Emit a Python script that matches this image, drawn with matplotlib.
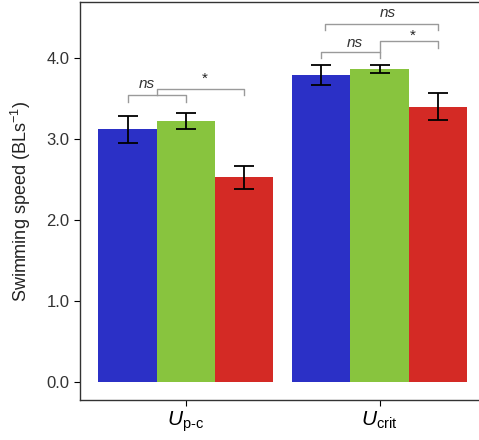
import numpy as np
import matplotlib.pyplot as plt

plt.rcParams['font.family'] = ['Liberation Sans', 'DejaVu Sans']
plt.rcParams['mathtext.fontset'] = 'custom'
plt.rcParams['mathtext.rm'] = 'Liberation Sans'
plt.rcParams['mathtext.it'] = 'Liberation Sans:italic'

groups = ['$\\mathit{U}_{\\mathrm{p\\text{-}c}}$', '$\\mathit{U}_{\\mathrm{crit}}$']
means_blue = [3.12, 3.79]
means_green = [3.22, 3.86]
means_red = [2.53, 3.40]
err_blue = [0.17, 0.12]
err_green = [0.10, 0.05]
err_red = [0.14, 0.17]

colors = ['#2b30c6', '#88c43e', '#d42a25']
width = 0.3
x = np.arange(len(groups))

fig = plt.figure(figsize=(4.79, 4.40), dpi=100)
ax = fig.add_axes([0.167, 0.091, 0.84, 0.904])

series = [(means_blue, err_blue), (means_green, err_green), (means_red, err_red)]
for i, (m, e) in enumerate(series):
    ax.bar(x + (i - 1) * width, m, width, color=colors[i], edgecolor='none')
    ax.errorbar(x + (i - 1) * width, m, yerr=e, fmt='none', ecolor='black',
                elinewidth=1.3, capsize=7, capthick=1.3)

gc = '#9a9a9a'
lw = 1.0
# group 1 brackets
ax.plot([-0.3, -0.3, 0.0, 0.0], [3.46, 3.54, 3.54, 3.46], color=gc, lw=lw)
ax.plot([-0.15, -0.15, 0.3, 0.3], [3.54, 3.62, 3.62, 3.54], color=gc, lw=lw)
ax.text(-0.2, 3.68, 'ns', style='italic', ha='center', va='center', fontsize=11, color='#333333')
ax.text(0.1, 3.75, '*', ha='center', va='center', fontsize=11, color='#222222')
# group 2 brackets
ax.plot([0.7, 0.7, 1.0, 1.0], [4.0, 4.07, 4.07, 4.0], color=gc, lw=lw)
ax.plot([1.0, 1.0, 1.3, 1.3], [4.07, 4.21, 4.21, 4.12], color=gc, lw=lw)
ax.plot([0.72, 0.72, 1.3, 1.3], [4.35, 4.42, 4.42, 4.35], color=gc, lw=lw)
ax.text(0.87, 4.19, 'ns', style='italic', ha='center', va='center', fontsize=11, color='#333333')
ax.text(1.17, 4.28, '*', ha='center', va='center', fontsize=11, color='#222222')
ax.text(1.04, 4.56, 'ns', style='italic', ha='center', va='center', fontsize=11, color='#333333')

ax.set_xlim(-0.545, 1.53)
ax.set_ylim(-0.22, 4.69)
ax.set_yticks([0, 1, 2, 3, 4])
ax.set_yticklabels(['0.0', '1.0', '2.0', '3.0', '4.0'])
ax.set_xticks(x)
ax.set_xticklabels(groups, fontsize=15)
ax.tick_params(axis='y', labelsize=12, labelcolor='#333333', length=4, direction='out')
ax.tick_params(axis='x', length=4, direction='out', pad=3)
ax.set_ylabel('Swimming speed (BLs$^{-1}$)', fontsize=13, color='#222222', labelpad=10)
for s in ax.spines.values():
    s.set_linewidth(1.0)
    s.set_color('#333333')

plt.savefig('out.png', dpi=100)
